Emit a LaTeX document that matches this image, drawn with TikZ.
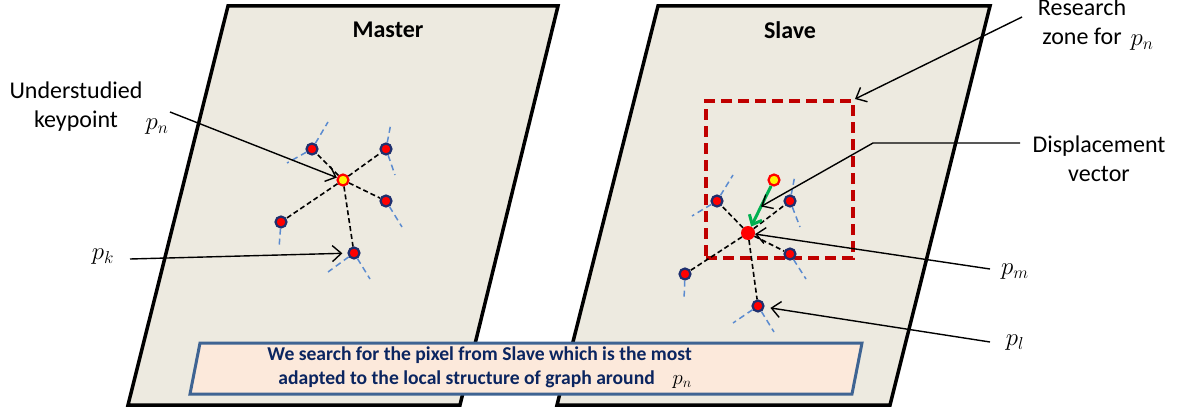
\documentclass[tikz,border=0pt]{standalone}
\usepackage{fontspec}
\setmainfont{Carlito}
\usetikzlibrary{arrows.meta,calc}
\definecolor{panel}{HTML}{EDEAE0}
\definecolor{navy}{HTML}{1F2F6E}
\definecolor{kpblue}{HTML}{5B8BD0}
\definecolor{zonered}{HTML}{C00000}
\definecolor{boxfill}{HTML}{FCE9DB}
\definecolor{boxline}{HTML}{3F6493}
\definecolor{txtnavy}{HTML}{0B2560}
\definecolor{vecgreen}{HTML}{00B050}
\begin{document}
\begin{tikzpicture}[x=1pt,y=-1pt,
  panelbox/.style={fill=panel, draw=black, line width=3.5pt, line join=miter},
  kp/.style={circle, fill=red, draw=navy, line width=2.2pt, minimum size=11pt, inner sep=0pt},
  kpn/.style={circle, fill=yellow, draw=red, line width=2.2pt, minimum size=11pt, inner sep=0pt},
  kpm/.style={circle, fill=red, minimum size=14pt, inner sep=0pt},
  link/.style={draw=black, dash pattern=on 5pt off 3pt, line width=1.6pt},
  orient/.style={draw=kpblue, dash pattern=on 6pt off 4pt, line width=1.5pt},
  callout/.style={draw=black, line width=1.4pt, -{Straight Barb[length=9pt,width=16pt]}},
  vec/.style={draw=vecgreen, line width=3pt, -{Straight Barb[length=8pt,width=14pt]}},
  lbl/.style={font=\fontsize{24}{29}\selectfont, align=center, inner sep=0pt},
  title/.style={font=\fontsize{24}{28}\selectfont\bfseries, inner sep=0pt},
  mlbl/.style={font=\fontsize{24}{28}\selectfont, inner sep=0pt},
  boxtxt/.style={font=\fontsize{19.6}{24}\selectfont\bfseries, text=txtnavy, inner sep=0pt, align=right},
  zonebox/.style={draw=zonered, line width=4pt, dash pattern=on 11pt off 6pt, minimum width=147pt, minimum height=157pt, inner sep=0pt}
]
\useasboundingbox (0,0) rectangle (1181,412);

% panels
\draw[panelbox] (228,6) -- (558,6) -- (460,405) -- (128,405) -- cycle;
\draw[panelbox] (658,6) -- (990,6) -- (890,405) -- (557,405) -- cycle;
\node[title] (master) at (388,30) {Master};
\node[title] (slave) at (790,30) {Slave};

% ---------- Master graph ----------
\node[kpn] (pnM) at (343,180) {};
\node[kp] (ma) at (312,149) {};
\node[kp] (mb) at (386,149) {};
\node[kp] (mc) at (386,201) {};
\node[kp] (md) at (281,222) {};
\node[kp] (me) at (354,253) {};
\coordinate (ma1) at (287,163); \coordinate (ma2) at (328,122);
\coordinate (mb1) at (391,123); \coordinate (mb2) at (395,175);
\coordinate (mc1) at (402,227);
\coordinate (md1) at (279,248);
\coordinate (me1) at (328,272); \coordinate (me2) at (370,279);
\draw[orient] (ma) -- (ma1); \draw[orient] (ma) -- (ma2);
\draw[orient] (mb) -- (mb1); \draw[orient] (mb) -- (mb2);
\draw[orient] (mc) -- (mc1);
\draw[orient] (md) -- (md1);
\draw[orient] (me) -- (me1); \draw[orient] (me) -- (me2);
\foreach \n in {ma,mb,mc,md,me} \draw[link] (pnM) -- (\n);

% ---------- Slave graph ----------
\node[zonebox] (zone) at (779.5,179.5) {};
\node[kpm] (pmS) at (748,233) {};
\node[kpn] (yel) at (774,180) {};
\node[kp] (sa) at (717,201) {};
\node[kp] (sb) at (790,201) {};
\node[kp] (sc) at (790,254) {};
\node[kp] (sd) at (685,274) {};
\node[kp] (se) at (758,306) {};
\coordinate (sa1) at (692,216); \coordinate (sa2) at (733,175);
\coordinate (sb1) at (795,175); \coordinate (sb2) at (800,227);
\coordinate (sc1) at (806,279);
\coordinate (sd1) at (684,300);
\coordinate (se1) at (733,323); \coordinate (se2) at (774,332);
\draw[orient] (sa) -- (sa1); \draw[orient] (sa) -- (sa2);
\draw[orient] (sb) -- (sb1); \draw[orient] (sb) -- (sb2);
\draw[orient] (sc) -- (sc1);
\draw[orient] (sd) -- (sd1);
\draw[orient] (se) -- (se1); \draw[orient] (se) -- (se2);
\foreach \n in {sa,sb,sc,sd,se} \draw[link] (pmS) -- (\n);
\draw[vec] (yel) -- (pmS);
\coordinate (vecmid) at ($(yel)!0.5!(pmS)$);

% ---------- callouts left ----------
\node[lbl] (under) at (76,107) {Understudied\\keypoint};
\node[mlbl] (pnlbl) at (157,127) {$p_n$};
\coordinate (u0) at (170,112);
\draw[callout] (u0) -- (pnM);
\node[mlbl] (pklbl) at (103,257) {$p_k$};
\coordinate (k0) at (130,259);
\draw[callout, shorten >=5pt] (k0) -- (me);

% ---------- callouts right ----------
\node[lbl] (research) at (1082,22) {Research\\zone for};
\node[mlbl] (pnlbl2) at (1142,43) {$p_n$};
\coordinate (r0) at (1022,17);
\draw[callout] (r0) -- (zone.north east);
\node[lbl] (disp) at (1099,159) {Displacement\\vector};
\coordinate (d0) at (1020,143); \coordinate (d1) at (873,143);
\draw[callout] (d0) -- (d1) -- (vecmid);
\node[mlbl] (pmlbl) at (1015,272) {$p_m$};
\coordinate (m0) at (990,269);
\draw[callout] (m0) -- (pmS);
\node[mlbl] (pllbl) at (1015,343) {$p_l$};
\coordinate (l0) at (990,342);
\draw[callout, shorten >=6pt] (l0) -- (se);

% ---------- bottom box ----------
\draw[fill=boxfill, draw=boxline, line width=3pt, line join=miter] (200,343) -- (862,343) -- (852,394) -- (190,394) -- cycle;
\node[boxtxt, anchor=east] (boxtext) at (692,368) {We search for the pixel from Slave which is the most\hspace{2pt}\\
  adapted to the local structure of graph around\hspace{18pt}{\fontsize{22}{24}\selectfont\mdseries\color{black}$p_n$}};
\end{tikzpicture}
\end{document}
